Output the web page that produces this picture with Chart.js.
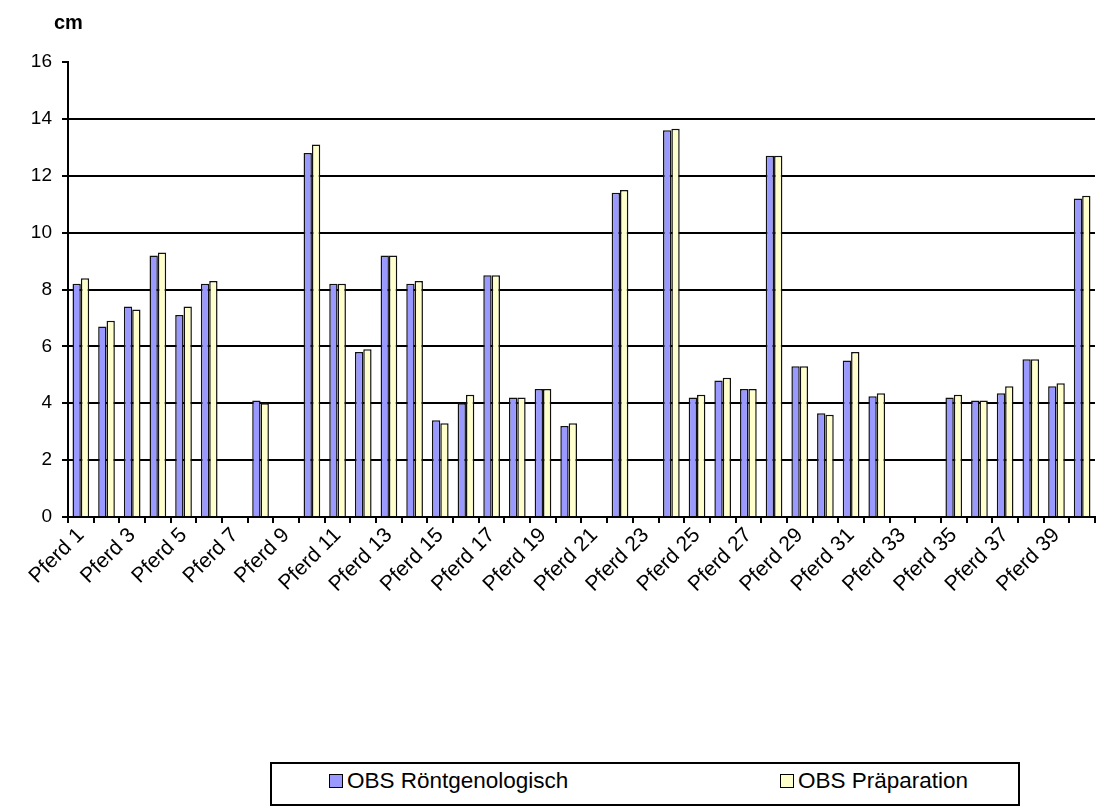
<!DOCTYPE html>
<html>
<head>
<meta charset="utf-8">
<title>OBS – Röntgenologisch / Präparation</title>
<script src="https://cdn.jsdelivr.net/npm/chart.js@4.4.1/dist/chart.umd.min.js"></script>
<style>
  html, body { margin: 0; padding: 0; background: #fff; overflow: hidden; width: 1096px; height: 808px; }
  #wrap { position: relative; width: 1100px; height: 808px; }
  #legend {
    position: absolute; left: 270px; top: 762px; width: 750px; height: 44px;
    box-sizing: border-box; border: 2px solid #000; background: #fff;
    font-family: "Liberation Sans", Arial, sans-serif; font-size: 22.5px; color: #000;
  }
  #legend .item { position: absolute; top: 0; height: 34px; display: flex; align-items: center; white-space: nowrap; }
  #legend .box { width: 12px; height: 12px; border: 1px solid #000; margin-right: 4px; }
</style>
</head>
<body>
<div id="wrap">
  <canvas id="chart"></canvas>
  <div id="legend"></div>
</div>
<script>
// Horses (x categories)
const categories = [
  'Pferd 1','Pferd 2','Pferd 3','Pferd 4','Pferd 5','Pferd 6','Pferd 7','Pferd 8','Pferd 9','Pferd 10',
  'Pferd 11','Pferd 12','Pferd 13','Pferd 14','Pferd 15','Pferd 16','Pferd 17','Pferd 18','Pferd 19','Pferd 20',
  'Pferd 21','Pferd 22','Pferd 23','Pferd 24','Pferd 25','Pferd 26','Pferd 27','Pferd 28','Pferd 29','Pferd 30',
  'Pferd 31','Pferd 32','Pferd 33','Pferd 34','Pferd 35','Pferd 36','Pferd 37','Pferd 38','Pferd 39','Pferd 40'
];

// OBS length in cm, radiographic measurement
const roentgenologisch = [
  8.2, 6.7, 7.4, 9.2, 7.1, 8.2, null, 4.1, null, 12.8,
  8.2, 5.8, 9.2, 8.2, 3.4, 4.0, 8.5, 4.2, 4.5, 3.2,
  null, 11.4, null, 13.6, 4.2, 4.8, 4.5, 12.7, 5.3, 3.65,
  5.5, 4.25, null, null, 4.2, 4.1, 4.35, 5.55, 4.6, 11.2
];

// OBS length in cm, measured on the dissected specimen
const praeparation = [
  8.4, 6.9, 7.3, 9.3, 7.4, 8.3, null, 4.0, null, 13.1,
  8.2, 5.9, 9.2, 8.3, 3.3, 4.3, 8.5, 4.2, 4.5, 3.3,
  null, 11.5, null, 13.65, 4.3, 4.9, 4.5, 12.7, 5.3, 3.6,
  5.8, 4.35, null, null, 4.3, 4.1, 4.6, 5.55, 4.7, 11.3
];

// Y axis range and tick step
const yMin = 0;
const yMax = 16;
const yStep = 2;
const yUnit = 'cm';

const seriesNames = ['OBS Röntgenologisch', 'OBS Präparation'];
const seriesColors = ['#9999FF', '#FFFFCC'];

const FONT = '"Liberation Sans", Arial, sans-serif';

// Unit label written above the value axis
const unitLabel = {
  id: 'unitLabel',
  afterDraw(chart) {
    const { ctx, chartArea } = chart;
    ctx.save();
    ctx.font = 'bold 20px ' + FONT;
    ctx.fillStyle = '#000';
    ctx.textAlign = 'left';
    ctx.textBaseline = 'middle';
    ctx.fillText(yUnit, chartArea.left - 14, chartArea.top - 39);
    ctx.restore();
  }
};

// HTML legend built from the chart's datasets, drawn inside a framed box
const htmlLegend = {
  id: 'htmlLegend',
  afterUpdate(chart) {
    const host = document.getElementById('legend');
    host.innerHTML = '';
    chart.data.datasets.forEach((ds, i) => {
      const item = document.createElement('div');
      item.className = 'item';
      item.style.left = (57 + i * 451) + 'px';
      const sw = document.createElement('span');
      sw.className = 'box';
      sw.style.background = ds.backgroundColor;
      const tx = document.createElement('span');
      tx.textContent = ds.label;
      item.appendChild(sw);
      item.appendChild(tx);
      host.appendChild(item);
    });
  }
};

new Chart(document.getElementById('chart'), {
  type: 'bar',
  data: {
    labels: categories,
    datasets: [
      { label: seriesNames[0], data: roentgenologisch, backgroundColor: seriesColors[0],
        borderColor: '#111', borderWidth: 1.5 },
      { label: seriesNames[1], data: praeparation, backgroundColor: seriesColors[1],
        borderColor: '#111', borderWidth: 1.5 }
    ]
  },
  options: {
    responsive: true,
    maintainAspectRatio: false,
    animation: false,
    datasets: { bar: { categoryPercentage: 0.65, barPercentage: 1.0 } },
    layout: { padding: { left: 0, right: 3, top: 62, bottom: 0 } },
    plugins: {
      legend: { display: false },
      tooltip: { enabled: false }
    },
    scales: {
      x: {
        afterFit(scale) { scale.height = 291; },
        grid: { offset: true, drawOnChartArea: false, drawTicks: true, tickLength: 6,
                color: '#000', tickColor: '#000', lineWidth: 2, tickWidth: 2 },
        border: { display: true, color: '#000', width: 2 },
        ticks: {
          autoSkip: false, minRotation: 45, maxRotation: 45, padding: 0, color: '#000',
          font: { family: FONT, size: 21 },
          callback(value, index) { return index % 2 === 0 ? this.getLabelForValue(value) : ''; }
        }
      },
      y: {
        min: yMin, max: yMax,
        afterFit(scale) { scale.width = 68; },
        grid: {
          drawTicks: true, tickLength: 6, lineWidth: 2, tickWidth: 2, tickColor: '#000',
          color: ctx => (ctx.tick && ctx.tick.value === yMax) ? 'rgba(0,0,0,0)' : '#000'
        },
        border: { display: true, color: '#000', width: 2 },
        ticks: { stepSize: yStep, padding: 10, color: '#000', font: { family: FONT, size: 19 } }
      }
    }
  },
  plugins: [htmlLegend, unitLabel]
});
</script>
</body>
</html>
